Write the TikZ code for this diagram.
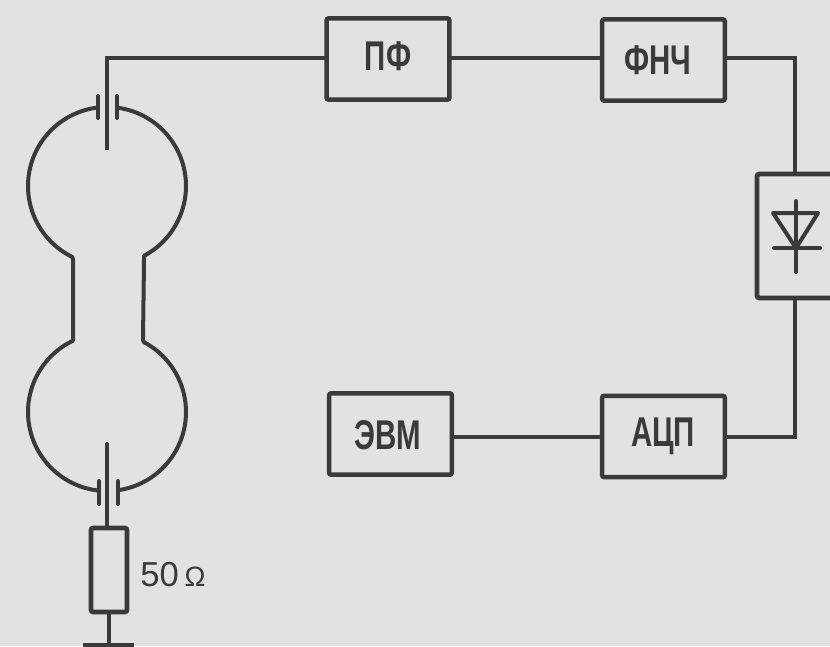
\documentclass[tikz,border=0pt]{standalone}
\usepackage{fontspec}
\setmainfont{Liberation Sans}
\definecolor{paper}{HTML}{E2E2E2}
\definecolor{ink}{HTML}{3A3A3A}
\newcommand{\blocklabel}[1]{\scalebox{0.92}[1.3]{#1}}
\tikzset{
  x=0.75pt,y=-0.75pt,
  wire/.style={draw=ink,line width=3pt,line join=miter},
  blockbox/.style={draw=ink,line width=3.4pt,rectangle,rounded corners=1.5pt,minimum width=92pt,minimum height=61pt,inner sep=0pt,outer sep=0pt},
  blocktext/.style={text=ink,inner sep=0pt,font=\fontsize{24pt}{26pt}\selectfont\bfseries},
  plate/.style={draw=ink,line width=3pt,line cap=round},
  cavity/.style={draw=ink,line width=3pt,line join=round},
}
\begin{document}
\begin{tikzpicture}
\useasboundingbox (0,0) rectangle (830,646);
\fill[paper] (0,0) rectangle (830,646);
% blocks
\node[blockbox] (pf) at (388,59) {};
\node[blockbox] (fnch) at (663.5,60) {};
\node[blockbox] (acp) at (663.5,436.5) {};
\node[blockbox] (evm) at (390.5,434) {};
\node[blockbox,minimum width=60pt,minimum height=93pt] (diode) at (797,236) {};
\node[blockbox,minimum width=27pt,minimum height=63pt] (res) at (109,570) {};
\node[blocktext] (pft) at (388,56) {\blocklabel{ПФ}};
\node[blocktext] (fncht) at (658,60) {\blocklabel{ФНЧ}};
\node[blocktext] (acpt) at (663,436) {\blocklabel{АЦП}};
\node[blocktext] (evmt) at (388,435) {\blocklabel{ЭВМ}};
\node[text=ink,font=\fontsize{26pt}{28pt}\selectfont,anchor=west,inner sep=0pt] (rlabel) at (140,575) {50\,{\fontsize{21pt}{23pt}\selectfont Ω}};
% coordinates
\coordinate (topcorner) at (107,58);
\coordinate (topend) at (107,150);
\coordinate (botend) at (107,444);
\coordinate (rcorner) at (795,58);
\coordinate (rcorner2) at (795,437);
\coordinate (gnd) at (109,645);
% wiring
\draw[wire] (topend) -- (topcorner) -- (pf.west |- topcorner);
\draw[wire] (pf.east |- topcorner) -- (fnch.west |- topcorner);
\draw[wire] (fnch.east |- rcorner) -- (rcorner) -- (rcorner |- diode.north);
\draw[wire] (rcorner2 |- diode.south) -- (rcorner2) -- (acp.east |- rcorner2);
\draw[wire] (acp.west |- rcorner2) -- (evm.east |- rcorner2);
\draw[wire,line cap=round] (botend) -- (botend |- res.north);
\draw[wire] (res.south) -- (gnd);
\draw[draw=ink,line width=3pt] (83,645) -- (134,645);
% coupling plates
\draw[plate] (98,96) -- (98,118);
\draw[plate] (117,96) -- (117,118);
\draw[plate] (99,481) -- (99,504);
\draw[plate] (118,481) -- (118,504);
% resonator, left and right halves
\draw[cavity] plot[domain=263.5:116,samples=60] ({107+79*cos(\x)},{186+79*sin(\x)})
  -- (73,260) -- (73,340)
  -- plot[domain=244:97,samples=60] ({107+79*cos(\x)},{412+79*sin(\x)});
\draw[cavity] plot[domain=-82:62,samples=60] ({107+79*cos(\x)},{186+79*sin(\x)})
  -- (144,260) -- (143,340)
  -- plot[domain=-62:82,samples=60] ({107+79*cos(\x)},{412+79*sin(\x)});
% diode symbol
\draw[cavity] (773,213) -- (818,213) -- (796,248) -- cycle;
\draw[plate] (774,248) -- (820,248);
\draw[plate] (796,201) -- (796,272);
\end{tikzpicture}
\end{document}
